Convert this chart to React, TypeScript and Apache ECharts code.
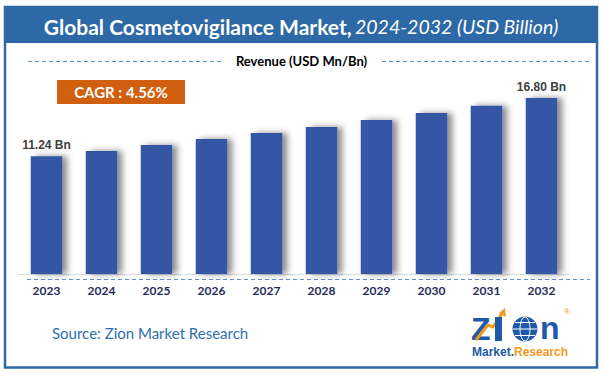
import React, { useEffect, useRef } from "react";
import * as echarts from "echarts";

const years = ["2023", "2024", "2025", "2026", "2027", "2028", "2029", "2030", "2031", "2032"];
const revenue = [11.24, 11.74, 12.31, 12.88, 13.45, 14.03, 14.69, 15.36, 16.06, 16.8];
const labelledIndexes = [0, 9];
const titleMain = "Global Cosmetovigilance Market,";
const titleSub = "2024-2032 (USD Billion)";
const axisTitle = "Revenue (USD Mn/Bn)";
const cagrText = "CAGR : 4.56%";
const sourceText = "Source: Zion Market Research";

const BLUE = "#2c69a6";
const BAR = "#3457a5";
const DASH = "#5b8fd6";
const LOGO_BLUE = "#1e5aa8";
const LOGO_ORANGE = "#f29a1f";

export default function App() {
  const ref = useRef<HTMLDivElement>(null);
  useEffect(() => {
    if (!ref.current) return;
    const chart = echarts.init(ref.current, null, { renderer: "svg" });
    const data = revenue.map((v, i) =>
      labelledIndexes.includes(i)
        ? { value: v, label: { show: true } }
        : { value: v }
    );
    chart.setOption({
      animation: false,
      backgroundColor: "#ffffff",
      grid: { left: 19, right: 34, top: 64.4, bottom: 99, containLabel: false },
      xAxis: {
        type: "category",
        data: years,
        axisLine: { show: true, lineStyle: { color: "#d9d9d9", width: 1 } },
        axisTick: { show: false },
        axisLabel: {
          margin: 10,
          color: "#1f2d5b",
          fontFamily: "Lato",
          fontWeight: "bold",
          fontSize: 12,
        },
      },
      yAxis: { type: "value", min: 0, max: 20, show: false, splitLine: { show: false } },
      series: [
        {
          type: "bar",
          data,
          barWidth: 31.5,
          itemStyle: {
            color: BAR,
            shadowColor: "rgba(0,0,0,0.45)",
            shadowBlur: 6,
            shadowOffsetX: 5,
            shadowOffsetY: 0,
          },
          label: {
            show: false,
            position: "top",
            distance: 5,
            color: "#404040",
            fontFamily: "Liberation Sans",
            fontWeight: "bold",
            fontSize: 12,
            formatter: (p: any) => `${Number(p.value).toFixed(2)} Bn`,
          },
        },
      ],
      graphic: [
        { type: "rect", shape: { x: 4, y: 6, width: 594, height: 37 }, style: { fill: BLUE } },
        {
          type: "rect",
          shape: { x: 5, y: 7, width: 592, height: 360.5 },
          style: { fill: "none", stroke: BLUE, lineWidth: 2.5 },
        },
        {
          type: "text",
          x: 301,
          y: 26,
          style: {
            text: `{a|${titleMain}} {b|${titleSub}}`,
            align: "center",
            verticalAlign: "middle",
            rich: {
              a: { fontFamily: "Lato", fontWeight: "bold", fontSize: 21, fill: "#ffffff" },
              b: { fontFamily: "Lato", fontStyle: "italic", fontSize: 19.5, fill: "#ffffff" },
            },
          },
        },
        {
          type: "line",
          shape: { x1: 28, y1: 61.5, x2: 222, y2: 61.5 },
          style: { stroke: DASH, lineWidth: 1, lineDash: [4, 3] },
        },
        {
          type: "line",
          shape: { x1: 382, y1: 61.5, x2: 590, y2: 61.5 },
          style: { stroke: DASH, lineWidth: 1, lineDash: [4, 3] },
        },
        {
          type: "text",
          x: 301.5,
          y: 61,
          style: {
            text: axisTitle,
            align: "center",
            verticalAlign: "middle",
            fontFamily: "Lato",
            fontWeight: "bold",
            fontSize: 13,
            fill: "#000000",
          },
        },
        { type: "rect", shape: { x: 57, y: 80, width: 128, height: 24 }, style: { fill: "#d0600f" } },
        {
          type: "text",
          x: 121,
          y: 92,
          style: {
            text: cagrText,
            align: "center",
            verticalAlign: "middle",
            fontFamily: "Lato",
            fontWeight: "bold",
            fontSize: 15,
            fill: "#ffffff",
          },
        },
        {
          type: "line",
          shape: { x1: 27, y1: 279.5, x2: 590, y2: 279.5 },
          style: { stroke: DASH, lineWidth: 1, lineDash: [4, 3] },
        },
        {
          type: "text",
          x: 52,
          y: 333,
          style: {
            text: sourceText,
            align: "left",
            verticalAlign: "middle",
            fontFamily: "Lato",
            fontSize: 15,
            fill: "#2e6fb0",
          },
        },
        // Logo
        {
          type: "text",
          x: 471,
          y: 328.5,
          style: {
            text: "Z",
            align: "left",
            verticalAlign: "middle",
            fontFamily: "Liberation Sans",
            fontWeight: "bold",
            fontSize: 32,
            fill: LOGO_BLUE,
          },
        },
        {
          type: "polyline",
          shape: { points: [[476, 340], [488, 325], [493, 327], [503, 312]] },
          style: { stroke: LOGO_ORANGE, lineWidth: 3, fill: "none" },
        },
        {
          type: "polygon",
          shape: { points: [[505, 308], [506, 317], [499, 313]] },
          style: { fill: LOGO_ORANGE },
        },
        {
          type: "rect",
          shape: { x: 495, y: 317, width: 7, height: 24 },
          style: { fill: LOGO_BLUE },
        },
        { type: "circle", shape: { cx: 525, cy: 329, r: 12.5 }, style: { fill: LOGO_BLUE } },
        { type: "ellipse", shape: { cx: 525, cy: 329, rx: 5, ry: 12 }, style: { fill: "none", stroke: "#ffffff", lineWidth: 1 } },
        { type: "line", shape: { x1: 513, y1: 329, x2: 537, y2: 329 }, style: { stroke: "#ffffff", lineWidth: 1 } },
        { type: "line", shape: { x1: 515, y1: 322.5, x2: 535, y2: 322.5 }, style: { stroke: "#ffffff", lineWidth: 1 } },
        { type: "line", shape: { x1: 515, y1: 335.5, x2: 535, y2: 335.5 }, style: { stroke: "#ffffff", lineWidth: 1 } },
        {
          type: "text",
          x: 540,
          y: 328,
          style: {
            text: "n",
            align: "left",
            verticalAlign: "middle",
            fontFamily: "Liberation Sans",
            fontWeight: "bold",
            fontSize: 32,
            fill: LOGO_BLUE,
          },
        },
        {
          type: "text",
          x: 564,
          y: 311,
          style: { text: "®", align: "left", verticalAlign: "middle", fontFamily: "Liberation Sans", fontSize: 8, fill: LOGO_ORANGE },
        },
        {
          type: "text",
          x: 472,
          y: 352,
          style: {
            text: "{m|Market}{d|.}{r|Research}",
            align: "left",
            verticalAlign: "middle",
            rich: {
              m: { fontFamily: "Liberation Sans", fontWeight: "bold", fontSize: 12, fill: LOGO_BLUE },
              d: { fontFamily: "Liberation Sans", fontWeight: "bold", fontSize: 12, fill: LOGO_BLUE },
              r: { fontFamily: "Liberation Sans", fontWeight: "bold", fontSize: 12, fill: LOGO_ORANGE },
            },
          },
        },
      ],
    });
    return () => chart.dispose();
  }, []);
  return (
    <div
      ref={ref}
      style={{ position: "fixed", left: 0, top: 0, width: 603, height: 373 }}
    />
  );
}
